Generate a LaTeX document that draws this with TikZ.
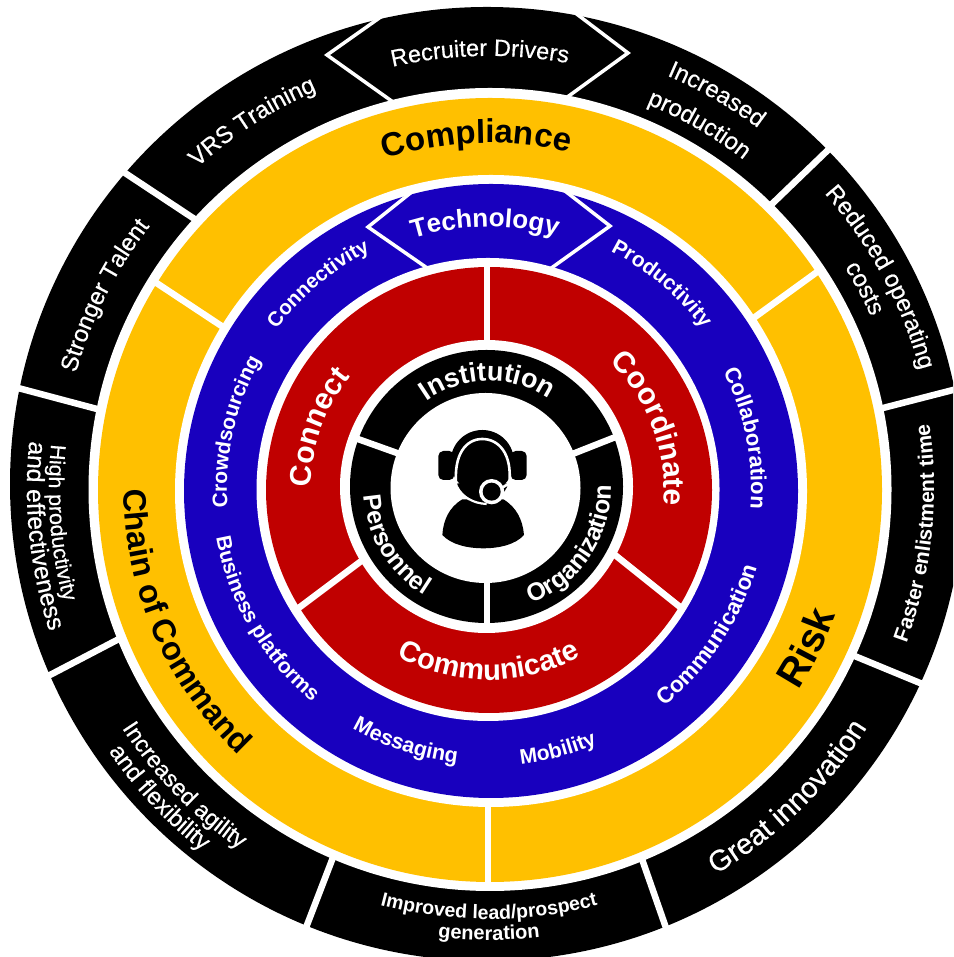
\documentclass[tikz,border=0pt]{standalone}
\usepackage{fontspec}
\setmainfont{Liberation Sans}
\newfontfamily\medfam[FakeBold=0.5]{Liberation Sans}
\usetikzlibrary{decorations.text}
\definecolor{ringgold}{HTML}{FFC000}
\definecolor{ringblue}{HTML}{1800BE}
\definecolor{ringred}{HTML}{C00000}
\newcommand\cwb{\bfseries\color{white}}
\newcommand\cwr{\medfam\color{white}}
\newcommand\ckb{\bfseries\color{black}}
% clockwise text (tops pointing outward)
\newcommand\topt[5]{\path[decorate,decoration={text along path,text align=center,text={|\fontsize{#3}{#3}\selectfont#4|#5}}]
  ([shift={(#1+70:#2)}]489,468) arc (#1+70:#1-70:#2);}
% counter-clockwise text (tops pointing to the centre)
\newcommand\bott[5]{\path[decorate,decoration={text along path,text align=center,text={|\fontsize{#3}{#3}\selectfont#4|#5}}]
  ([shift={(#1-70:#2)}]489,468) arc (#1-70:#1+70:#2);}
\tikzset{
  gapline/.style={white,line width=6.5pt,shorten <=-#1,shorten >=-#1},
  gapline/.default=4pt,
  chevron/.style={white,line width=3.5pt,line join=miter}
}
\begin{document}
\begin{tikzpicture}[x=1pt,y=1pt]
\clip (0,0) rectangle (953,957);
\fill[white] (0,0) rectangle (953,957);
\begin{scope}[y=-1pt,yshift=957pt]
  \fill[black] (487,484) circle (477);
  \draw[gapline=12pt] (125,173)--(193,218);
  \draw[gapline=12pt] (18,388)--(97,409);
  \draw[gapline=12pt] (50,675)--(117,640);
  \draw[gapline=12pt] (332,860)--(307,925);
  \draw[gapline=12pt] (643,862)--(665,925);
  \draw[gapline=12pt] (857,657)--(920,683);
  \draw[gapline=12pt] (883,408)--(953,390);
  \draw[gapline=12pt] (773,203)--(828,150);
  \draw[chevron] (385,14)--(327,55)--(393,102);
  \draw[chevron] (574,12)--(628,53)--(566,98);
  \fill[white] (490,489.5) circle (401.5);
  \fill[ringgold] (490,490) circle (392);
  \draw[gapline] (755,317)--(817,272);
  \draw[gapline] (155,282)--(220,325);
  \draw[gapline] (488,807)--(488,882);
  \fill[white] (491,491) circle (316);
  \fill[ringblue] (491,491) circle (307);
  \draw[chevron] (413,191)--(368,227)--(430,270);
  \draw[chevron] (565,191)--(610,226)--(550,269);
  \fill[white] (488,489.5) circle (231.5);
  \fill[ringred] (489,490) circle (223);
  \draw[gapline] (487,268)--(487,345);
  \draw[gapline] (300,607)--(360,562);
  \draw[gapline] (680,607)--(615,555);
  \fill[white] (486.5,486.5) circle (146.5);
  \fill[black] (486.5,486.5) circle (136.5);
  \draw[gapline=3pt] (355,438)--(397,453);
  \draw[gapline=3pt] (613,438)--(575,453);
  \draw[gapline=3pt] (487,583)--(487,623);
  \fill[white] (485.5,488) circle (95);
\end{scope}
% headset icon
\begin{scope}[shift={(425,537)},x=0.33333pt,y=-0.33333pt]
  \fill[black,rounded corners=5pt] (40,93) rectangle (88,180);
  \fill[black,rounded corners=5pt] (257,93) rectangle (305,180);
  \fill[black] (172,125) circle (95);
  \fill[black] (95,190) .. controls (105,225) and (140,245) .. (175,245) .. controls (210,245) and (240,225) .. (250,190) -- cycle;
  \fill[black] (112,238) .. controls (72,262) and (55,300) .. (52,345) .. controls (80,375) and (130,385) .. (175,385) .. controls (220,385) and (270,375) .. (297,345) .. controls (293,300) and (275,262) .. (235,238) -- cycle;
  \draw[white,line width=2.6pt] (94,200) .. controls (84,100) and (125,57) .. (172,57) .. controls (220,57) and (262,100) .. (253,190) -- (225,207);
  \draw[white,line width=2.2pt] (96,200) .. controls (112,232) and (145,250) .. (185,252);
  \fill[white] (200,215) circle (38);
  \fill[black] (200,215) circle (27);
\end{scope}
% outer ring
\topt{91.2}{433}{23.5}{\cwr}{Recruiter Drivers}
\topt{122.8}{434}{24}{\cwr}{VRS Training}
\topt{153.3}{429}{24}{\cwr}{Stronger Talent}
\topt{60}{450}{24}{\cwr}{Increased}
\topt{60}{416}{24}{\cwr}{production}
\topt{28.4}{447}{24}{\cwr}{Reduced operating}
\topt{28.1}{419}{24}{\cwr}{costs}
\bott{-5.9}{445}{21}{\cwb}{Faster enlistment time}
\bott{-45.9}{447}{29}{\cwr}{Great innovation}
\bott{-90}{430}{19.5}{\cwb}{Improved lead/prospect}
\bott{-90}{451}{20}{\cwb}{generation}
\bott{224.2}{438}{23.5}{\cwr}{Increased agility}
\bott{223.1}{462}{24}{\cwr}{and flexibility}
\bott{184.5}{440}{21.5}{\cwr}{High productivity}
\bott{186}{462}{24.8}{\cwr}{and effectiveness}
% gold ring
\topt{92.1}{346}{33}{\ckb}{Compliance}
\bott{-26.5}{369}{40}{\ckb}{Risk}
\bott{203.4}{365}{32.5}{\ckb}{Chain of Command}
% blue ring
\topt{90.9}{262}{26}{\cwb}{Technology}
\topt{129.8}{266}{20.5}{\cwb}{Connectivity}
\topt{49.9}{267}{21}{\cwb}{Productivity}
\topt{11.2}{262}{22}{\cwb}{Collaboration}
\topt{167.3}{262}{21}{\cwb}{Crowdsourcing}
\bott{-33.7}{279}{22.5}{\cwb}{Communication}
\bott{-75.2}{277}{21}{\cwb}{Mobility}
\bott{251.8}{276}{21.5}{\cwb}{Messaging}
\bott{210.2}{277}{21}{\cwb}{Business platforms}
% red ring
\topt{160.1}{178}{30}{\cwb}{Connect}
\topt{20.5}{175}{30}{\cwb}{Coordinate}
\bott{-90}{191}{29}{\cwb}{Communicate}
% black ring
\topt{90.9}{108}{27}{\cwb}{Institution}
\bott{210.9}{125}{25}{\cwb}{Personnel}
\bott{-34}{122}{25}{\cwb}{Organization}
\end{tikzpicture}
\end{document}
